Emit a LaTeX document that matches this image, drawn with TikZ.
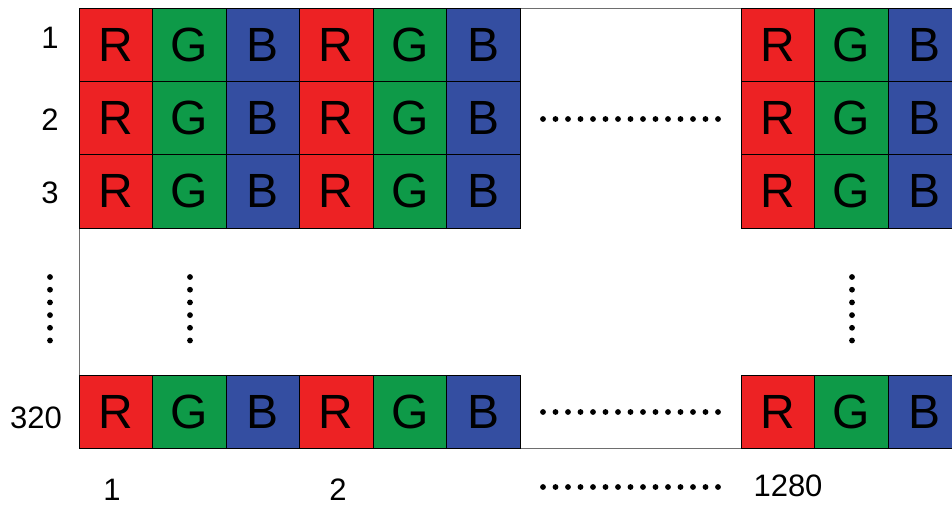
\documentclass[tikz,border=0pt]{standalone}
\usepackage{fontspec}
\setmainfont{Liberation Sans}
\usetikzlibrary{positioning}

\definecolor{pxred}{RGB}{237,34,36}
\definecolor{pxgreen}{RGB}{14,154,72}
\definecolor{pxblue}{RGB}{52,78,161}
\definecolor{framegray}{RGB}{110,110,110}

\tikzset{
  subpix/.style={draw=black, line width=0.8pt, minimum width=73.5pt, minimum height=73.3pt,
    inner sep=0pt, outer sep=0pt, font=\fontsize{48}{48}\selectfont},
  idx/.style={font=\fontsize{31}{31}\selectfont, inner sep=0pt},
  pxdot/.style={fill=black}
}

\begin{document}
\begin{tikzpicture}[x=1pt, y=-1pt]
\useasboundingbox (0,0) rectangle (952,506);

% Panel frame
\draw[framegray, line width=0.8pt] (79,8) rectangle (970,448);

% Pixel rows: R G B sub-pixels
\foreach \ry [count=\i] in {8,81.33,154.67,375} {
  \foreach \gx [count=\j] in {79,299.5,741} {
    \node[subpix, fill=pxred, anchor=north west] (p\i-\j-r) at (\gx,\ry) {R};
    \node[subpix, fill=pxgreen, right=0pt of p\i-\j-r] (p\i-\j-g) {G};
    \node[subpix, fill=pxblue, right=0pt of p\i-\j-g] (p\i-\j-b) {B};
  }
}

% Row numbers
\node[idx] (row1) at (50,38) {1};
\node[idx] (row2) at (50,120) {2};
\node[idx] (row3) at (50,193) {3};
\node[idx] (row320) at (36,418) {320};

% Column numbers
\node[idx] (col1) at (112,490) {1};
\node[idx] (col2) at (338,490) {2};
\node[idx] (col1280) at (788,486) {1280};

% Horizontal ellipsis dots
\foreach \yy in {119,412,487} {
  \foreach \k in {0,...,14}
    \fill[pxdot] (543+12.5*\k,\yy) circle (2.9pt);
}

% Vertical ellipsis dots
\foreach \xx in {50,190,852} {
  \foreach \k in {0,...,5}
    \fill[pxdot] (\xx,277+12.7*\k) circle (2.9pt);
}
\end{tikzpicture}
\end{document}
